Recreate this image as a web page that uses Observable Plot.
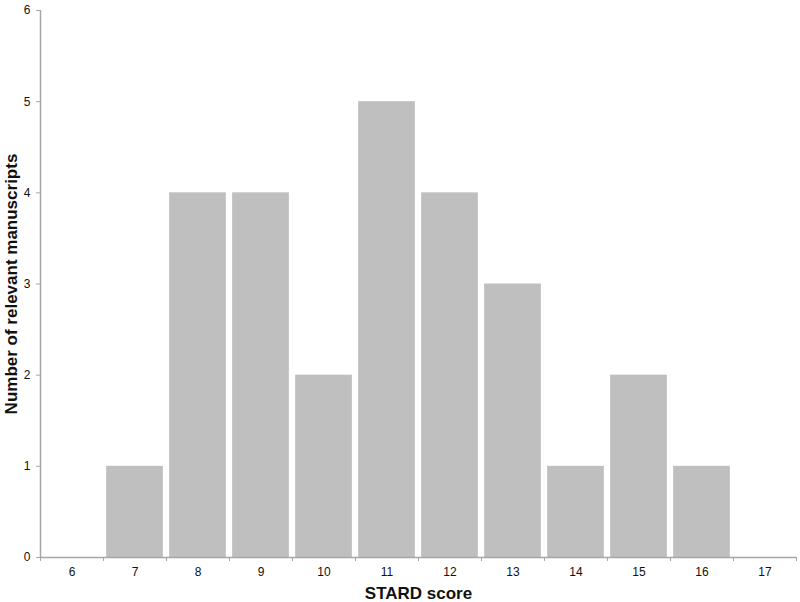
<!DOCTYPE html>
<html>
<head>
<meta charset="utf-8">
<script src="https://cdn.jsdelivr.net/npm/d3@7"></script>
<script src="https://cdn.jsdelivr.net/npm/@observablehq/plot@0.6"></script>
<style>
  html, body { margin: 0; padding: 0; background: #fff; }
  #chart svg { display: block; }
</style>
</head>
<body>
<div id="chart"></div>
<script>
const scores = [6, 7, 8, 9, 10, 11, 12, 13, 14, 15, 16, 17];
const counts = [0, 1, 4, 4, 2, 5, 4, 3, 1, 2, 1, 0];
const yTicks = [0, 1, 2, 3, 4, 5, 6];
const xLabel = "STARD score";
const yLabel = "Number of relevant manuscripts";

const data = scores.map((s, i) => ({score: s, count: counts[i]}));
const boundaries = [...scores.map(s => s - 0.5), scores[scores.length - 1] + 0.5];
const axisColor = "#a6a6a6";
const font = "Liberation Sans, Arial, sans-serif";

const chart = Plot.plot({
  width: 800,
  height: 602,
  marginLeft: 40,
  marginRight: 4,
  marginTop: 10,
  marginBottom: 45,
  style: {fontFamily: font, fontSize: "12px", color: "#111"},
  x: {domain: [scores[0] - 0.5, scores[scores.length - 1] + 0.5]},
  y: {domain: [0, 6]},
  marks: [
    Plot.rectY(data.filter(d => d.count > 0), {
      x1: d => d.score - 0.45,
      x2: d => d.score + 0.45,
      y1: 0,
      y2: "count",
      fill: "#bfbfbf"
    }),
    Plot.ruleX([scores[0] - 0.5], {stroke: axisColor, strokeWidth: 1.5}),
    Plot.ruleY([0], {stroke: axisColor, strokeWidth: 1.5}),
    Plot.axisY({ticks: yTicks, tickSize: 4, tickPadding: 6, tickFormat: d => String(d), stroke: axisColor, label: null, fontSize: 12, color: "#111"}),
    Plot.axisX({ticks: boundaries, tickSize: 4, tickFormat: () => "", stroke: axisColor, label: null}),
    Plot.axisX({ticks: scores, tickSize: 0, tickPadding: 10, tickFormat: d => String(d), label: null, fontSize: 12}),
    Plot.text([xLabel], {frameAnchor: "bottom", dy: 41, fontSize: 17, fontWeight: "bold", fill: "#111"}),
    Plot.text([yLabel], {frameAnchor: "left", textAnchor: "middle", dx: -29, rotate: -90, fontSize: 17, fontWeight: "bold", fill: "#111"})
  ]
});
document.getElementById("chart").appendChild(chart);
</script>
</body>
</html>
